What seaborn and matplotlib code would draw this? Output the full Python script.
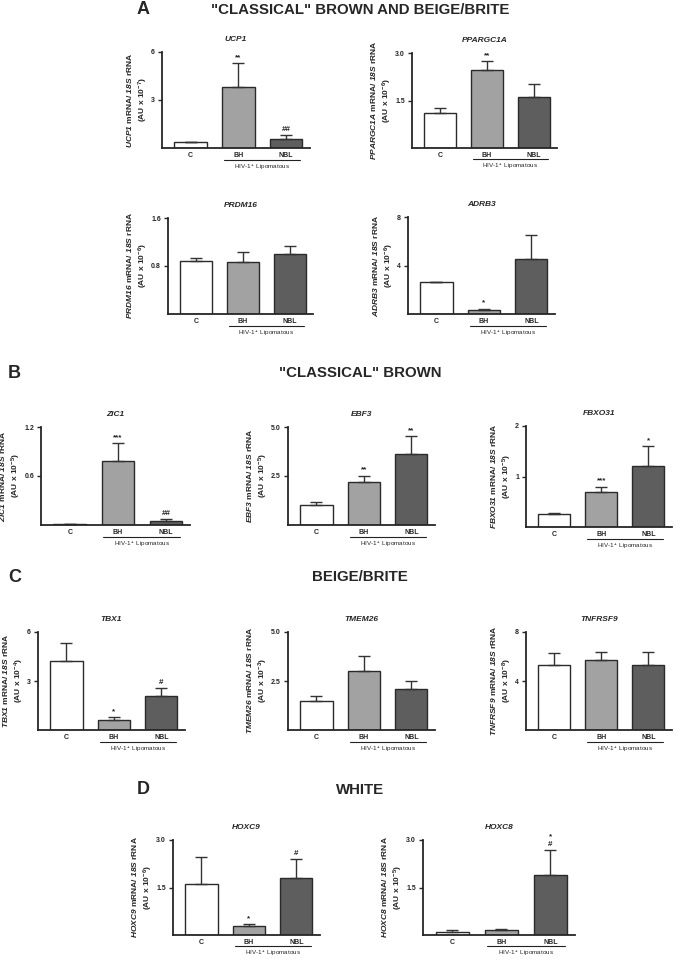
import matplotlib.pyplot as plt
import seaborn as sns

# groups and bar fills
groups = ["C", "BH", "NBL"]
bar_colors = ["#ffffff", "#a2a2a2", "#5e5e5e"]

# values (mean, upper SEM, significance marks)
ucp1 = [0.35, 3.8, 0.55]
ucp1_err = [0.05, 1.5, 0.25]
ucp1_sig = ["", "**", "##"]

ppargc1a = [1.1, 2.45, 1.6]
ppargc1a_err = [0.17, 0.3, 0.42]
ppargc1a_sig = ["", "**", ""]

prdm16 = [0.88, 0.86, 1.0]
prdm16_err = [0.05, 0.18, 0.13]
prdm16_sig = ["", "", ""]

adrb3 = [2.6, 0.3, 4.5]
adrb3_err = [0.05, 0.15, 2.0]
adrb3_sig = ["", "*", ""]

zic1 = [0.01, 0.78, 0.05]
zic1_err = [0.005, 0.22, 0.02]
zic1_sig = ["", "***", "##"]

ebf3 = [1.0, 2.2, 3.6]
ebf3_err = [0.15, 0.32, 0.95]
ebf3_sig = ["", "**", "**"]

fbxo31 = [0.25, 0.7, 1.2]
fbxo31_err = [0.03, 0.1, 0.4]
fbxo31_sig = ["", "***", "*"]

tbx1 = [4.2, 0.6, 2.1]
tbx1_err = [1.1, 0.2, 0.5]
tbx1_sig = ["", "*", "#"]

tmem26 = [1.5, 3.0, 2.1]
tmem26_err = [0.25, 0.8, 0.4]
tmem26_sig = ["", "", ""]

tnfrsf9 = [5.3, 5.7, 5.3]
tnfrsf9_err = [1.0, 0.7, 1.1]
tnfrsf9_sig = ["", "", ""]

hoxc9 = [1.6, 0.3, 1.8]
hoxc9_err = [0.85, 0.05, 0.6]
hoxc9_sig = ["", "*", "#"]

hoxc8 = [0.1, 0.15, 1.9]
hoxc8_err = [0.05, 0.05, 0.8]
hoxc8_sig = ["", "", "*\n#"]

sns.set_style("ticks")
plt.rcParams['font.family'] = ['Liberation Sans', 'DejaVu Sans']
plt.rcParams['mathtext.fontset'] = 'custom'
plt.rcParams['mathtext.rm'] = 'Liberation Sans:bold'
plt.rcParams['mathtext.it'] = 'Liberation Sans:italic'
plt.rcParams['mathtext.bf'] = 'Liberation Sans:bold'
plt.rcParams['mathtext.bfit'] = 'Liberation Sans:italic:bold'

W, H = 681, 960
fig = plt.figure(figsize=(W / 100, H / 100), dpi=100)


def add_panel(rect, gene, vals, errs, marks, ymax, ticks, ticklabels, exp):
    x0, x1, y0, y1 = rect
    ax = fig.add_axes([x0 / W, 1 - y1 / H, (x1 - x0) / W, (y1 - y0) / H])
    sns.barplot(x=groups, y=vals, hue=groups, palette=bar_colors, legend=False,
                width=0.68, edgecolor="#2a2a2a", linewidth=1.0, ax=ax)
    ax.errorbar(range(3), vals, yerr=[[0, 0, 0], errs], fmt="none",
                ecolor="#333333", elinewidth=1, capsize=4, capthick=1)
    for i, (v, e, m) in enumerate(zip(vals, errs, marks)):
        if m:
            ax.text(i, v + e + ymax * 0.02, m, ha="center", va="bottom",
                    fontsize=5.8, fontweight="bold", linespacing=1.1)
    ax.set_xlim(-0.6, 2.5)
    ax.set_ylim(0, ymax)
    ax.set_yticks(ticks)
    ax.set_yticklabels(ticklabels)
    sns.despine(ax=ax)
    for s in ["left", "bottom"]:
        ax.spines[s].set_linewidth(1.3)
    ax.tick_params(axis="y", length=3, width=1, labelsize=5, pad=2)
    ax.tick_params(axis="x", length=0, labelsize=5, pad=3)
    for lab in ax.get_xticklabels() + ax.get_yticklabels():
        lab.set_fontweight("bold")
    ax.set_xlabel("")
    ax.set_ylabel(f"$\\mathbfit{{{gene}}}$ mRNA/ $\\mathbfit{{18S}}$ rRNA\n"
                  f"(AU x 10$^{{{exp}}}$)", fontsize=6, fontweight="bold",
                  labelpad=1, linespacing=1.25)
    ax.set_title(gene, fontsize=6, fontweight="bold", style="italic", pad=8)
    trans = ax.get_xaxis_transform()
    ax.plot([0.7, 2.3], [-0.12, -0.12], transform=trans, clip_on=False,
            color="#222222", lw=0.8)
    ax.text(1.5, -0.15, "HIV-1$^+$ Lipomatous", transform=trans, ha="center",
            va="top", fontsize=4.5, fontweight="normal")
    return ax


add_panel((162, 310, 52, 148), "UCP1", ucp1, ucp1_err, ucp1_sig, 6, [3, 6], ["3", "6"], -7)
add_panel((412, 557, 53, 148), "PPARGC1A", ppargc1a, ppargc1a_err, ppargc1a_sig, 3, [1.5, 3], ["1.5", "3.0"], -6)
add_panel((168, 313, 218, 314), "PRDM16", prdm16, prdm16_err, prdm16_sig, 1.6, [0.8, 1.6], ["0.8", "1.6"], -6)
add_panel((408, 555, 217, 314), "ADRB3", adrb3, adrb3_err, adrb3_sig, 8, [4, 8], ["4", "8"], -6)
add_panel((41, 190, 427, 525), "ZIC1", zic1, zic1_err, zic1_sig, 1.2, [0.6, 1.2], ["0.6", "1.2"], -5)
add_panel((288, 435, 427, 525), "EBF3", ebf3, ebf3_err, ebf3_sig, 5, [2.5, 5], ["2.5", "5.0"], -5)
add_panel((526, 672, 426, 527), "FBXO31", fbxo31, fbxo31_err, fbxo31_sig, 2, [1, 2], ["1", "2"], -5)
add_panel((38, 185, 632, 730), "TBX1", tbx1, tbx1_err, tbx1_sig, 6, [3, 6], ["3", "6"], -4)
add_panel((288, 435, 632, 730), "TMEM26", tmem26, tmem26_err, tmem26_sig, 5, [2.5, 5], ["2.5", "5.0"], -3)
add_panel((526, 672, 632, 730), "TNFRSF9", tnfrsf9, tnfrsf9_err, tnfrsf9_sig, 8, [4, 8], ["4", "8"], -8)
add_panel((173, 320, 840, 935), "HOXC9", hoxc9, hoxc9_err, hoxc9_sig, 3, [1.5, 3], ["1.5", "3.0"], -6)
add_panel((423, 575, 840, 935), "HOXC8", hoxc8, hoxc8_err, hoxc8_sig, 3, [1.5, 3], ["1.5", "3.0"], -5)

# section headings
headings = [("A", 137, 10, '"CLASSICAL" BROWN AND BEIGE/BRITE'),
            ("B", 8, 373, '"CLASSICAL" BROWN'),
            ("C", 8, 577, "BEIGE/BRITE"),
            ("D", 137, 790, "WHITE")]
for letter, lx, ly, title in headings:
    fig.text(lx / W, 1 - ly / H, letter, fontsize=13, fontweight="bold",
             ha="left", va="center")
    fig.text(360 / W, 1 - ly / H, title, fontsize=10.8, fontweight="bold",
             ha="center", va="center")

plt.savefig("out.png", dpi=100)
